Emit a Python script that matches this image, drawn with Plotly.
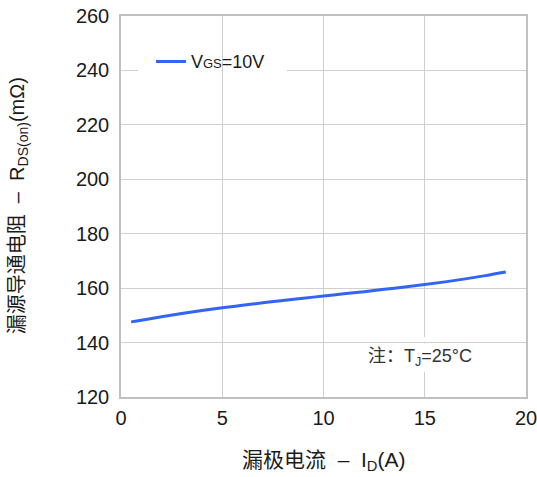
import plotly.graph_objects as go

# Data
id_a = [0.5, 1, 2, 3, 4, 5, 6, 7, 8, 9, 10, 11, 12, 13, 14, 15, 16, 17, 18, 19]
rds_on = [147.6, 148.2, 149.5, 150.7, 151.8, 152.8, 153.7, 154.6, 155.5, 156.3,
          157.1, 157.9, 158.7, 159.6, 160.4, 161.3, 162.3, 163.4, 164.6, 165.9]
series_name = "V<span style='font-size:13px'>GS</span>=10V"
x_ticks = [0, 5, 10, 15, 20]
y_ticks = [120, 140, 160, 180, 200, 220, 240, 260]

FONT = "Liberation Sans, Arial, Noto Sans CJK SC, sans-serif"
GRID = "#cfcfcf"

fig = go.Figure()
fig.add_trace(go.Scatter(
    x=id_a, y=rds_on, mode="lines", name=series_name,
    line=dict(color="#3264f5", width=3, shape="spline"),
))

# white patches that break gridlines behind legend and note (as in reference)
patches = [
    (0.84, 4.95, 239.2, 240.8),
    (5.05, 8.2, 239.2, 240.8),
    (14.85, 15.15, 129.2, 139.7),
    (14.85, 15.15, 140.3, 142.0),
]
for x0, x1, y0, y1 in patches:
    fig.add_shape(type="rect", x0=x0, x1=x1, y0=y0, y1=y1, xref="x", yref="y",
                  fillcolor="white", line=dict(width=0), layer="between")

fig.update_layout(
    width=537, height=477,
    margin=dict(l=121, r=11, t=16, b=80, autoexpand=False),
    paper_bgcolor="white", plot_bgcolor="white",
    font=dict(family=FONT, size=20, color="#1a1a1a"),
    showlegend=True,
    legend=dict(x=0.074, y=0.88, xanchor="left", yanchor="middle",
                bgcolor="rgba(0,0,0,0)", borderwidth=0,
                font=dict(size=18, color="#1a1a1a")),
    xaxis=dict(range=[0, 20], tickvals=x_ticks, showgrid=True, gridcolor=GRID, gridwidth=1,
               zeroline=False, showline=True, linecolor="#c0c0c0", linewidth=1.5, mirror=True,
               ticks="outside", ticklen=2, tickcolor="rgba(0,0,0,0)",
               tickfont=dict(size=20), automargin=False, ticklabeloverflow="allow"),
    yaxis=dict(range=[120, 260], tickvals=y_ticks, showgrid=True, gridcolor=GRID, gridwidth=1,
               zeroline=False, showline=True, linecolor="#c0c0c0", linewidth=1.5, mirror=True,
               ticks="outside", ticklen=6, tickcolor="rgba(0,0,0,0)",
               tickfont=dict(size=20), automargin=False, ticklabeloverflow="allow"),
    annotations=[
        dict(text="漏极电流  –  I<sub>D</sub>(A)", xref="paper", yref="paper",
             x=0.5, y=-0.168, xanchor="center", yanchor="middle", showarrow=False,
             font=dict(size=21, color="#1a1a1a")),
        dict(text="漏源导通电阻  –  R<sub>DS(on)</sub>(mΩ)", xref="paper", yref="paper",
             x=-0.254, y=0.501, xanchor="center", yanchor="middle", textangle=-90,
             showarrow=False, font=dict(size=20, color="#1a1a1a")),
        dict(text="注：T<sub>J</sub>=25°C", xref="x", yref="y", x=14.75, y=134.7,
             xanchor="center", yanchor="middle", showarrow=False,
             font=dict(size=18, color="#333333")),
    ],
)

fig.write_html("out.html", config={"displayModeBar": False},
               post_script="document.body.style.margin='0';")
